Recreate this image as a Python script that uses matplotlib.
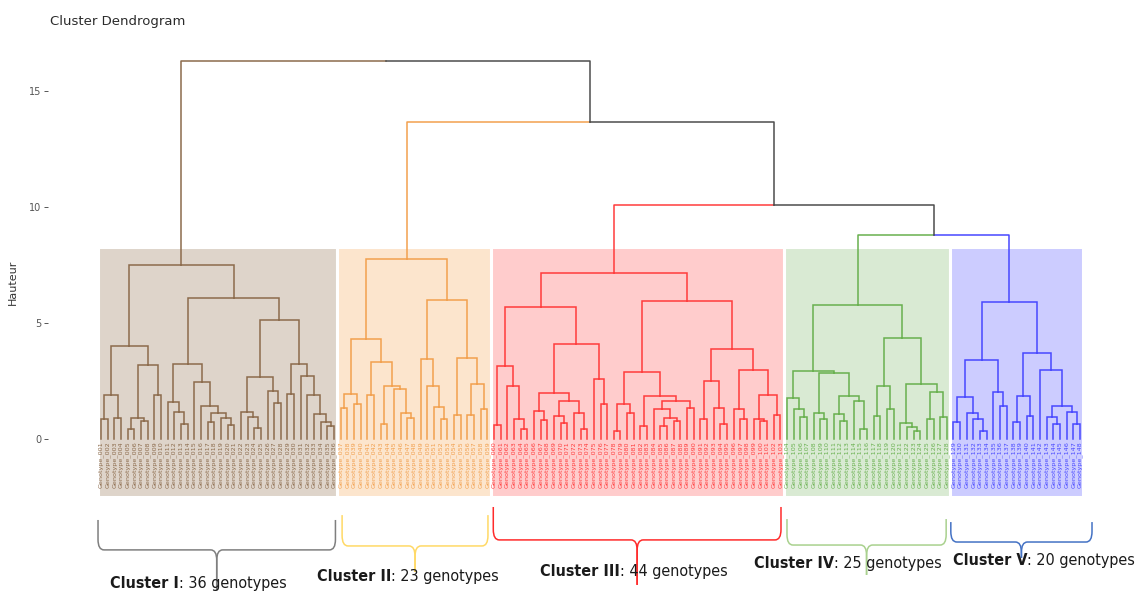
import matplotlib
matplotlib.use("Agg")
import matplotlib.pyplot as plt
from matplotlib.path import Path
from matplotlib.patches import PathPatch, Rectangle
from matplotlib import font_manager

# merges inside each cluster written as (height, left, right); 0 is a single genotype
cluster_1 = (7.5,
             (4.0,
              (1.9, (0.86, 0, 0), (0.9, 0, 0)),
              (3.19, (0.9, (0.43, 0, 0), (0.78, 0, 0)), (1.9, 0, 0))),
             (6.1,
              (3.25,
               (1.6, 0, (1.18, 0, (0.65, 0, 0))),
               (2.47, 0, (1.44, 0, (1.12, (0.75, 0, 0), (0.9, 0, (0.6, 0, 0)))))),
              (5.13,
               (2.66, (1.18, 0, (0.94, 0, (0.49, 0, 0))), (2.08, 0, (1.55, 0, 0))),
               (3.23, (1.94, 0, 0),
                (2.72, 0, (1.9, 0, (1.06, 0, (0.75, 0, (0.56, 0, 0)))))))))

cluster_2 = (7.74,
             (4.3,
              (1.92, (1.33, 0, 0), (1.5, 0, 0)),
              (3.3, (1.9, 0, 0),
               (2.3, (0.63, 0, 0), (2.15, 0, (1.1, 0, (0.89, 0, 0)))))),
             (5.99,
              (3.45, 0, (2.3, 0, (1.39, 0, (0.85, 0, 0)))),
              (3.48, (1.03, 0, 0), (2.35, (1.03, 0, 0), (1.28, 0, 0)))))

cluster_3 = (7.14,
             (5.7,
              (3.15, (0.6, 0, 0), (2.28, 0, (0.86, 0, (0.42, 0, 0)))),
              (4.08,
               (2.0, (1.22, 0, (0.82, 0, 0)),
                (1.64, (1.0, 0, (0.7, 0, 0)), (1.1, 0, (0.43, 0, 0)))),
               (2.57, 0, (1.49, 0, 0)))),
             (5.95,
              (2.87,
               (1.49, (0.34, 0, 0), (1.13, 0, 0)),
               (1.87, (0.55, 0, 0),
                (1.64, (1.29, 0, (0.89, (0.57, 0, 0), (0.79, 0, 0))), (1.32, 0, 0)))),
              (3.88,
               (2.5, (0.85, 0, 0), (1.35, 0, (0.63, 0, 0))),
               (2.97, (1.28, 0, (0.85, 0, 0)),
                (1.9, (0.86, 0, (0.78, 0, 0)), (1.03, 0, 0))))))

cluster_4 = (5.78,
             (2.93,
              (1.75, 0, (1.28, 0, (0.96, 0, 0))),
              (2.83, (1.13, 0, (0.86, 0, 0)),
               (1.87, (1.06, 0, (0.78, 0, 0)), (1.64, 0, (0.42, 0, 0))))),
             (4.34,
              (2.3, (0.99, 0, 0), (1.28, 0, 0)),
              (2.36, (0.71, 0, (0.5, 0, (0.35, 0, 0))),
               (2.01, (0.86, 0, 0), (0.93, 0, 0)))))

cluster_5 = (5.92,
             (3.4,
              (1.79, (0.72, 0, 0), (1.13, 0, (0.85, 0, (0.36, 0, 0)))),
              (2.04, 0, (1.42, 0, 0))),
             (3.69,
              (1.87, (0.72, 0, 0), (1.0, 0, 0)),
              (2.97, 0, (1.44, (0.93, 0, (0.65, 0, 0)), (1.15, 0, (0.65, 0, 0))))))

# heights where clusters are joined: IV+V, III+(IV,V), II+(...), I+(...)
join_heights = [8.79, 10.1, 13.66, 16.3]

cluster_names = ["Cluster I", "Cluster II", "Cluster III", "Cluster IV", "Cluster V"]
line_colors = ["#8c6b4c", "#f2a04e", "#ff3c3c", "#68b04e", "#4848ff"]
fill_colors = ["#ded4ca", "#fce5cd", "#ffcccc", "#d9ead3", "#ccccff"]
brace_colors = ["#7f7f7f", "#ffd966", "#ff2b2b", "#a9d18e", "#4472c4"]
join_color = "#4d4d4d"

trees = [cluster_1, cluster_2, cluster_3, cluster_4, cluster_5]

# brace layout (data units): top of arms, bar, tip, extra width left/right
brace_top = [-3.49, -3.28, -2.93, -3.45, -3.58]
brace_bar = [-4.78, -4.61, -4.35, -4.57, -4.44]
brace_tip = [-6.5, -5.73, -6.29, -5.86, -5.13]
brace_pad = [(0.45, 0.2), (-0.2, 0.1), (0.1, 0.1), (0.0, -0.1), (0.4, 1.8)]
label_xy = [(1.35, -6.55), (32.4, -6.25), (65.9, -6.05), (98.0, -5.7), (127.9, -5.55)]

fonts = {f.name for f in font_manager.fontManager.ttflist}
if "Liberation Sans Narrow" in fonts:
    narrow = dict(family="Liberation Sans Narrow")
else:
    narrow = dict(family="DejaVu Sans", stretch="condensed")


def count(node):
    if node == 0:
        return 1
    return count(node[1]) + count(node[2])


sizes = [count(t) for t in trees]
n_leaves = sum(sizes)
genotypes = ["Genotype_%03d" % (i + 1) for i in range(n_leaves)]

fig = plt.figure(figsize=(11.43, 5.97), dpi=100)
ax = fig.add_axes([48 / 1143, 87 / 597, 1052 / 1143, 470 / 597])
ax.set_xlim(-7.96, 150.0)
ax.set_ylim(-3.06, 17.2)

lw = 1.1
next_leaf = [0]


def draw(node, color):
    if node == 0:
        x = next_leaf[0]
        next_leaf[0] += 1
        ax.text(x, -0.1, genotypes[x], rotation=90, ha="center", va="top",
                fontsize=4.6, color=color, zorder=2)
        return x, 0.0
    h, left, right = node
    kids = [draw(left, color), draw(right, color)]
    x = (kids[0][0] + kids[1][0]) / 2
    for cx, ch in kids:
        ax.plot([x, cx, cx], [h, h, ch], color=color, lw=lw,
                solid_joinstyle="miter", zorder=3)
    return x, h


tops = []
spans = []
for tree, col in zip(trees, line_colors):
    first = next_leaf[0]
    x, h = draw(tree, col)
    tops.append((x, h, col))
    spans.append((first, next_leaf[0] - 1))

# joins between the clusters, drawn from the right
right = tops[4]
for k, h in zip([3, 2, 1, 0], join_heights):
    left = tops[k]
    x = (left[0] + right[0]) / 2
    for cx, ch, c in (left, right):
        ax.plot([x, cx, cx], [h, h, ch], color=c, lw=lw, zorder=3)
    right = (x, h, join_color)

# shaded boxes around the five clusters
for (a, b), fc in zip(spans, fill_colors):
    ax.add_patch(Rectangle((a - 0.5, -2.5), b - a + 1.0, 8.28 + 2.5,
                           facecolor=fc, edgecolor="white", lw=2.2, zorder=1))


def brace(x0, x1, top, bar, tip, color):
    xc = (x0 + x1) / 2
    rx, ry = 0.9, 0.45
    for xa, s in ((x0, 1), (x1, -1)):
        verts = [(xa, top), (xa, bar + ry), (xa, bar), (xa + s * rx, bar),
                 (xc - s * rx, bar), (xc, bar), (xc, bar - ry), (xc, tip)]
        codes = [Path.MOVETO, Path.LINETO, Path.CURVE3, Path.CURVE3,
                 Path.LINETO, Path.CURVE3, Path.CURVE3, Path.LINETO]
        ax.add_patch(PathPatch(Path(verts, codes), facecolor="none",
                               edgecolor=color, lw=1.1, clip_on=False, zorder=4))


for i, (a, b) in enumerate(spans):
    pl, pr = brace_pad[i]
    brace(a - pl, b + pr, brace_top[i], brace_bar[i], brace_tip[i], brace_colors[i])
    lx, ly = label_xy[i]
    t = ax.text(lx, ly, cluster_names[i], fontsize=11.5, fontweight="bold",
                va="bottom", ha="left", color="#1a1a1a", clip_on=False, zorder=5, **narrow)
    ax.annotate(": %d genotypes" % sizes[i], xy=(1, 0), xycoords=t,
                va="bottom", ha="left", fontsize=11.5, color="#1a1a1a",
                annotation_clip=False, zorder=5, **narrow)

for side in ["top", "right", "bottom", "left"]:
    ax.spines[side].set_visible(False)
ax.set_xticks([])
ax.set_yticks([0, 5, 10, 15])
ax.tick_params(axis="y", length=3, width=0.7, color="#555555", pad=2,
               labelsize=7, labelcolor="#555555")
ax.set_ylabel("Hauteur", fontsize=8, color="#333333")
ax.yaxis.set_label_coords(-0.029, 0.485)

fig.text(50 / 1143, 1 - 22 / 597, "Cluster Dendrogram", fontsize=9.5,
         color="#2b2b2b", va="center", ha="left")

fig.savefig("out.png", dpi=100)
